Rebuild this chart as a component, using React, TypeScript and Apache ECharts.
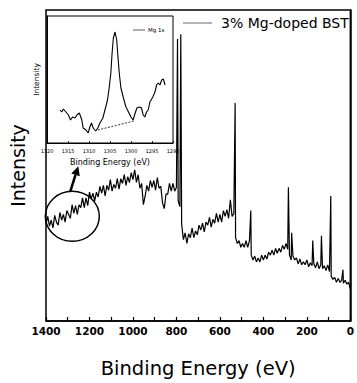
import { useEffect, useRef } from "react";
import * as echarts from "echarts";

// Survey spectrum (binding energy in eV, intensity in arbitrary units)
const surveyEnergy = [
  1400, 1392, 1384, 1376, 1368, 1360, 1352, 1344, 1336, 1328, 1320, 1312, 1304, 1296, 1288, 1280,
  1272, 1264, 1256, 1248, 1240, 1232, 1224, 1216, 1208, 1200, 1192, 1184, 1176, 1168, 1160, 1152,
  1144, 1136, 1128, 1120, 1112, 1104, 1096, 1088, 1080, 1072, 1064, 1056, 1048, 1040, 1032, 1024,
  1016, 1008, 1000, 992, 984, 976, 968, 960, 952, 944, 936, 928, 920, 912, 904, 896,
  888, 880, 872, 864, 856, 848, 840, 832, 824, 816, 808, 800, 795, 792, 784, 780, 776,
  768, 760, 752, 744, 736, 728, 720, 712, 704, 696, 688, 680, 672, 664, 656, 648,
  640, 632, 624, 616, 608, 600, 592, 584, 576, 568, 560, 552, 544, 536, 530, 528,
  520, 512, 504, 496, 488, 480, 472, 464, 458, 456, 448, 440, 432, 424, 416, 408,
  400, 392, 384, 376, 368, 360, 352, 344, 336, 328, 320, 312, 304, 296, 288, 285,
  280, 272, 270, 264, 256, 248, 240, 232, 224, 216, 208, 200, 192, 184, 176, 173,
  168, 160, 152, 144, 136, 133, 128, 120, 112, 104, 96, 90, 88, 80, 72, 64,
  56, 48, 40, 34, 32, 24, 16, 8, 0,
];
const surveyCounts = [
  100, 108, 98, 104, 96, 109, 102, 99, 112, 104, 110, 102, 114, 110, 106, 120,
  111, 119, 110, 120, 117, 127, 117, 127, 119, 133, 126, 132, 124, 133, 128, 139,
  132, 140, 129, 140, 135, 146, 134, 141, 137, 147, 136, 147, 142, 151, 140, 149,
  143, 153, 146, 156, 143, 151, 137, 142, 120, 129, 140, 134, 145, 138, 145, 135,
  148, 137, 139, 122, 116, 131, 131, 142, 134, 142, 134, 138, 291, 124, 118, 296, 100,
  84, 91, 80, 90, 86, 96, 86, 93, 89, 99, 94, 101, 92, 102, 99, 107,
  97, 105, 101, 111, 102, 110, 102, 114, 108, 115, 106, 125, 108, 111, 225, 86,
  80, 83, 76, 80, 76, 83, 76, 83, 114, 68, 63, 67, 61, 65, 61, 68,
  63, 68, 64, 71, 68, 73, 68, 75, 70, 75, 71, 78, 74, 80, 74, 138,
  68, 63, 91, 67, 63, 65, 59, 64, 58, 61, 58, 63, 56, 60, 57, 83,
  59, 55, 61, 54, 58, 88, 54, 57, 52, 58, 51, 129, 46, 43, 45, 40,
  44, 40, 42, 53, 39, 42, 38, 40, 33,
];

// Inset: Mg 1s region
const insetEnergy = [
  1316.9, 1316.5, 1316.1, 1315.5, 1314.9, 1314.4, 1313.9, 1313.3, 1312.9, 1312.3, 1311.7, 1311.4,
  1310.7, 1310.2, 1309.8, 1309.4, 1309.0, 1308.4, 1307.9, 1307.4, 1306.7, 1306.2, 1305.6, 1305.2,
  1304.8, 1304.5, 1304.2, 1303.8, 1303.4, 1303.1, 1302.8, 1302.4, 1301.8, 1301.2, 1300.6, 1300.0,
  1299.5, 1299.0, 1298.6, 1298.0, 1297.5, 1297.1, 1296.7, 1296.3, 1295.9, 1295.5, 1294.8, 1294.3,
  1293.9, 1293.5, 1293.1, 1292.7, 1292.3, 1291.9,
];
const insetCounts = [
  33, 31, 34, 31, 28, 23, 26, 25, 28, 30, 23, 15,
  13, 10, 16, 20, 15, 12, 15, 20, 25, 33, 43, 55,
  70, 90, 105, 111, 103, 86, 70, 55, 45, 36, 31, 26,
  23, 30, 35, 36, 35, 28, 26, 31, 33, 41, 46, 51,
  58, 60, 58, 63, 64, 58,
];
const baselineEnergy = [1307.9, 1299.3];
const baselineCounts = [13, 22];

const xTicksMain = [1400, 1200, 1000, 800, 600, 400, 200, 0];
const xTicksInset = [1320, 1315, 1310, 1305, 1300, 1295, 1290];

const FONT = "DejaVu Sans";

export default function App() {
  const ref = useRef<HTMLDivElement>(null);
  useEffect(() => {
    const chart = echarts.init(ref.current!, null, { renderer: "svg" });
    const pairs = (xs: number[], ys: number[]) => xs.map((x, i) => [x, ys[i]]);
    chart.setOption({
      animation: false,
      backgroundColor: "#fff",
      grid: [
        { left: 43, right: 2, top: 10, bottom: 52, show: true, borderColor: "#000", borderWidth: 1.5 },
        { left: 47, top: 16, width: 126, height: 127, show: true, backgroundColor: "#fff", borderColor: "#000", borderWidth: 1 },
      ],
      legend: [
        {
          data: ["3% Mg-doped BST"],
          left: 183,
          top: 16,
          padding: 0,
          icon: "rect",
          itemWidth: 29,
          itemHeight: 1,
          itemStyle: { color: "#666" },
          textStyle: { fontFamily: FONT, fontSize: 14, color: "#000", padding: [0, 0, 0, 4] },
        },
        {
          data: ["Mg 1s"],
          left: 133,
          top: 27,
          padding: 0,
          icon: "rect",
          itemWidth: 12,
          itemHeight: 0.8,
          itemStyle: { color: "#333" },
          textStyle: { fontFamily: FONT, fontSize: 5.5, color: "#000", padding: [0, 0, 0, -2] },
        },
      ],
      xAxis: [
        {
          gridIndex: 0,
          type: "value",
          min: 0,
          max: 1400,
          interval: 200,
          inverse: true,
          axisLine: { lineStyle: { color: "#000", width: 1.5 } },
          axisTick: { inside: true, length: 4, lineStyle: { color: "#000", width: 1.2 } },
          minorTick: { show: true, splitNumber: 2, length: 4, lineStyle: { color: "#000", width: 1.2 } },
          splitLine: { show: false },
          axisLabel: {
            fontFamily: FONT,
            fontSize: 10.5,
            fontWeight: "bold",
            color: "#000",
            margin: 4,
            showMinLabel: true,
            showMaxLabel: true,
            formatter: (v: number) => (xTicksMain.includes(v) ? String(v) : ""),
          },
          name: "Binding Energy (eV)",
          nameLocation: "middle",
          nameGap: 37,
          nameTextStyle: { fontFamily: FONT, fontSize: 19.5, color: "#000" },
        },
        {
          gridIndex: 1,
          type: "value",
          min: 1290,
          max: 1320,
          interval: 5,
          inverse: true,
          axisLine: { lineStyle: { color: "#000", width: 1 } },
          axisTick: { inside: true, length: 2, lineStyle: { color: "#000", width: 0.8 } },
          splitLine: { show: false },
          axisLabel: {
            fontFamily: FONT,
            fontSize: 5,
            color: "#000",
            margin: 5,
            showMinLabel: true,
            showMaxLabel: true,
            formatter: (v: number) => (xTicksInset.includes(v) ? String(v) : ""),
          },
          name: "Binding Energy (eV)",
          nameLocation: "middle",
          nameGap: 15,
          nameTextStyle: { fontFamily: FONT, fontSize: 8, color: "#000" },
        },
      ],
      yAxis: [
        {
          gridIndex: 0,
          type: "value",
          min: 0,
          max: 321,
          axisLine: { show: true, lineStyle: { color: "#000", width: 1.5 } },
          axisTick: { show: false },
          axisLabel: { show: false },
          splitLine: { show: false },
          name: "Intensity",
          nameLocation: "middle",
          nameGap: 19,
          nameTextStyle: { fontFamily: FONT, fontSize: 19, color: "#000" },
        },
        {
          gridIndex: 1,
          type: "value",
          min: 0,
          max: 127,
          axisLine: { show: true, lineStyle: { color: "#000", width: 1 } },
          axisTick: { show: false },
          axisLabel: { show: false },
          splitLine: { show: false },
          name: "Intensity",
          nameLocation: "middle",
          nameGap: 7,
          nameTextStyle: { fontFamily: FONT, fontSize: 7.5, color: "#000" },
        },
      ],
      series: [
        {
          name: "3% Mg-doped BST",
          type: "line",
          xAxisIndex: 0,
          yAxisIndex: 0,
          symbol: "none",
          data: pairs(surveyEnergy, surveyCounts),
          lineStyle: { color: "#000", width: 1.2 },
        },
        {
          name: "Mg 1s",
          type: "line",
          xAxisIndex: 1,
          yAxisIndex: 1,
          symbol: "none",
          data: pairs(insetEnergy, insetCounts),
          lineStyle: { color: "#000", width: 1.1 },
          z: 5,
        },
        {
          name: "baseline",
          type: "line",
          xAxisIndex: 1,
          yAxisIndex: 1,
          symbol: "none",
          data: pairs(baselineEnergy, baselineCounts),
          lineStyle: { color: "#000", width: 0.8, type: [2, 1.5] },
          z: 5,
        },
      ],
    });
    const c = chart.convertToPixel({ gridIndex: 0 }, [1279, 108]) as number[];
    const cx = c[0];
    const cy = c[1];
    chart.setOption({
      graphic: [
        { type: "ellipse", shape: { cx, cy, rx: 27, ry: 25 }, style: { fill: "none", stroke: "#000", lineWidth: 1.5 }, z: 10 },
        { type: "line", shape: { x1: cx - 2, y1: cy - 25, x2: cx + 3.2, y2: cy - 41.4 }, style: { stroke: "#000", lineWidth: 2.5 }, z: 10 },
        {
          type: "polygon",
          shape: { points: [[cx + 6, cy - 50], [cx + 7.5, cy - 40], [cx - 1, cy - 42.8]] },
          style: { fill: "#000" },
          z: 10,
        },
      ],
    });
    return () => chart.dispose();
  }, []);
  return <div ref={ref} style={{ width: 357, height: 383, position: "absolute", left: 0, top: 0 }} />;
}
